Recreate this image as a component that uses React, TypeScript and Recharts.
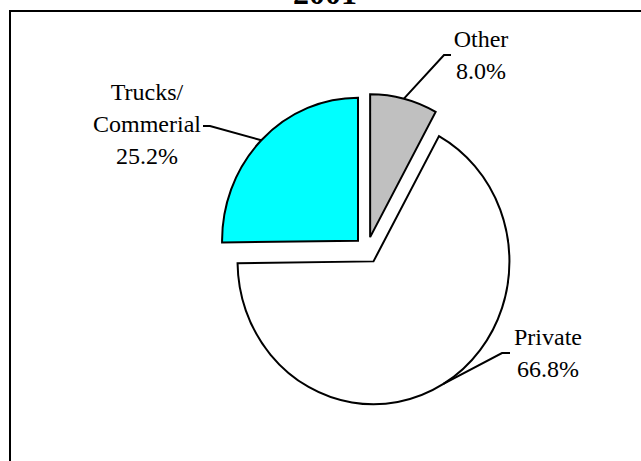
import { Cell, Pie, PieChart, Sector } from 'recharts'

const categories = ['Other', 'Private', 'Trucks/Commerial']
const shares = [8.0, 66.8, 25.2]
const colors = ['#c0c0c0', '#ffffff', '#00ffff']

const data = categories.map((name, i) => ({ name, value: shares[i] }))

const RADIAN = Math.PI / 180
const EXPLODE = 13
// the original pie is a little taller than wide
const SX = 0.971
const SY = 1.021
const FONT = '"Liberation Serif", "Times New Roman", serif'

// where each leader line bends and where the label text sits
const labelLayout: Record<string, { elbow: [number, number]; end: [number, number]; x: number; y: number }> = {
  Other: { elbow: [444, 55], end: [451, 55], x: 481, y: 47 },
  Private: { elbow: [502, 353], end: [510, 353], x: 548, y: 345 },
  'Trucks/Commerial': { elbow: [210, 126], end: [203, 126], x: 147, y: 100 },
}

function offset(midAngle: number, dist: number) {
  return [dist * Math.cos(-midAngle * RADIAN), dist * Math.sin(-midAngle * RADIAN)]
}

function ExplodedSector(props: any) {
  const { cx, cy } = props
  const [dx, dy] = offset(props.midAngle, EXPLODE)
  return (
    <g transform={`translate(${cx},${cy}) scale(${SX},${SY}) translate(${-cx},${-cy})`}>
      <Sector {...props} cx={cx + dx} cy={cy + dy} vectorEffect="non-scaling-stroke" />
    </g>
  )
}

function SliceLabel(props: any) {
  const { cx, cy, midAngle, outerRadius, value } = props
  const name = props.name ?? props.payload?.name
  const layout = labelLayout[name]
  if (!layout) return null
  const [sx, sy] = offset(midAngle, EXPLODE + outerRadius)
  const lines = [...name.split(/(?<=\/)/), `${Number(value).toFixed(1)}%`]
  return (
    <g>
      <polyline
        points={`${cx + sx * SX},${cy + sy * SY} ${layout.elbow.join(',')} ${layout.end.join(',')}`}
        fill="none"
        stroke="#000"
        strokeWidth={2}
      />
      <text x={layout.x} y={layout.y} textAnchor="middle" fontFamily={FONT} fontSize={24} fill="#000">
        {lines.map((line, i) => (
          <tspan key={i} x={layout.x} dy={i === 0 ? 0 : 32}>
            {line}
          </tspan>
        ))}
      </text>
    </g>
  )
}

export default function App() {
  return (
    <div style={{ position: 'fixed', left: 0, top: 0, width: 641, height: 461, overflow: 'hidden', background: '#fff' }}>
      <div
        style={{
          position: 'absolute',
          left: 9,
          top: 10,
          width: 700,
          height: 500,
          border: '2px solid #000',
          boxSizing: 'border-box',
        }}
      />
      <svg width={641} height={20} style={{ position: 'absolute', left: 0, top: 0 }}>
        <text x={325} y={3.5} textAnchor="middle" fontFamily={FONT} fontWeight="bold" fontSize={32} fill="#000">
          2001
        </text>
      </svg>
      <div style={{ position: 'absolute', left: 0, top: 0 }}>
        <PieChart width={641} height={461} margin={{ top: 0, right: 0, bottom: 0, left: 0 }}>
          <Pie
            data={data}
            dataKey="value"
            nameKey="name"
            cx={367}
            cy={250}
            outerRadius={140}
            startAngle={90}
            endAngle={-270}
            stroke="#000"
            strokeWidth={2}
            shape={ExplodedSector}
            inactiveShape={ExplodedSector}
            activeShape={ExplodedSector}
            label={SliceLabel}
            labelLine={false}
            isAnimationActive={false}
          >
            {data.map((d, i) => (
              <Cell key={d.name} fill={colors[i]} />
            ))}
          </Pie>
        </PieChart>
      </div>
    </div>
  )
}
